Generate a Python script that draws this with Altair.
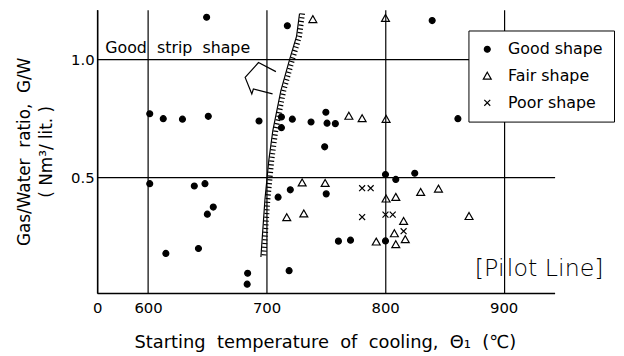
import altair as alt
import pandas as pd

# ---------------- data ----------------
categories = ["Good shape", "Fair shape", "Poor shape"]

good_x = [649.4, 717.5, 839.7,
          601.4, 612.8, 629.0, 650.8, 693.6, 712.5, 712.5, 721.7, 737.5, 750.0, 751.0, 758.0, 749.0, 861.4,
          601.4, 639.0, 648.0, 650.0, 655.0, 615.0, 642.5, 684.0, 683.6, 709.7, 720.0, 750.3, 719.0,
          760.6, 770.8, 800.3, 800.3, 809.0, 825.0]
good_y = [1.178, 1.142, 1.164,
          0.770, 0.749, 0.747, 0.759, 0.739, 0.756, 0.711, 0.747, 0.735, 0.776, 0.730, 0.728, 0.630, 0.749,
          0.474, 0.464, 0.474, 0.345, 0.375, 0.179, 0.200, 0.095, 0.049, 0.417, 0.448, 0.431, 0.106,
          0.231, 0.235, 0.232, 0.513, 0.492, 0.518]

fair_x = [739.0, 800.3, 769.4, 780.6, 800.8, 730.0, 749.4, 717.0, 731.4, 800.8, 809.0, 830.0, 845.0,
          815.6, 870.8, 807.8, 817.0, 792.5, 809.0]
fair_y = [1.169, 1.174, 0.760, 0.750, 0.747, 0.478, 0.476, 0.331, 0.347, 0.410, 0.417, 0.438, 0.452,
          0.315, 0.336, 0.263, 0.238, 0.228, 0.217]

poor_x = [780.6, 787.8, 780.6, 800.3, 806.4, 815.6]
poor_y = [0.455, 0.455, 0.333, 0.343, 0.343, 0.273]

boundary_x = [727.8, 725.3, 719.5, 712.0, 705.3, 701.9, 698.6, 695.2]
boundary_y = [1.194, 1.098, 1.001, 0.867, 0.700, 0.574, 0.407, 0.164]

x_ticks = [557, 600, 700, 800, 900]
y_ticks = [0.5, 1.0]

note_text = ["Good\u00a0\u00a0strip\u00a0\u00a0shape"]
note_x = [563.8]
note_y = [1.028]

pilot_text = ["[Pi\u200alot\u00a0Line]"]
pilot_x = [875.7]
pilot_y = [0.113]

arrow_x = [695.0]
arrow_y = [0.922]

# ---------------- tables ----------------
rows = []
for cat, xs, ys in zip(categories, [good_x, fair_x, poor_x], [good_y, fair_y, poor_y]):
    rows += [{"temp": a, "gw": b, "shape": cat} for a, b in zip(xs, ys)]
df = pd.DataFrame(rows)
bdf = pd.DataFrame({"temp": boundary_x, "gw": boundary_y, "ord": list(range(len(boundary_x)))})

FONT = "DejaVu Sans"
NB = "\u00a0"

xscale = alt.Scale(domain=[557, 943], nice=False, zero=False)
yscale = alt.Scale(domain=[0.012, 1.21], nice=False, zero=False)

xaxis = alt.Axis(
    values=x_ticks, format="d", labelExpr="datum.value < 580 ? '0' : datum.label",
    labelFlush=False, grid=True, gridColor="black", gridWidth=1.2, gridOpacity=1,
    domainColor="black", domainWidth=1.5, ticks=False,
    labelFont=FONT, labelFontSize=15, labelColor="black", labelPadding=8,
    title=f"Starting{NB}{NB}temperature{NB}{NB}of{NB}{NB}cooling,{NB}{NB}Θ₁{NB}{NB}(℃)",
    titleFont=FONT, titleFontSize=18, titleFontWeight="normal", titleColor="black",
    titleX=230, titleY=50, titleAlign="center", titleBaseline="middle",
)
yaxis = alt.Axis(
    values=y_ticks, format=".1f", grid=True, gridColor="black", gridWidth=1.2, gridOpacity=1,
    domainColor="black", domainWidth=1.5, ticks=False,
    labelFont=FONT, labelFontSize=15, labelColor="black", labelPadding=3,
    title=[f"Gas/Water{NB}{NB}ratio,{NB}{NB}G/W", NB * 22 + f"({NB}Nm³/{NB}lit.{NB})"],
    titleFont=FONT, titleFontSize=17, titleFontWeight="normal", titleColor="black",
    titleX=-81, titleY=143, titleAlign="center", titleBaseline="top", titleLineHeight=22,
    titleAngle=270,
)

X = alt.X("temp:Q", scale=xscale, axis=xaxis)
Y = alt.Y("gw:Q", scale=yscale, axis=yaxis)

legend = alt.Legend(
    orient="none", legendX=375, legendY=21, title=None,
    strokeColor="black", fillColor="white", padding=11, rowPadding=11,
    labelFont=FONT, labelFontSize=16, labelColor="black", labelOffset=13,
    symbolSize=64, symbolStrokeColor="black", symbolStrokeWidth=1.2, cornerRadius=0,
)

circle_path = "M-0.75,0A0.75,0.75 0 1,0 0.75,0A0.75,0.75 0 1,0 -0.75,0Z"
tri_path = "M0,-0.95L1,0.8L-1,0.8Z"
x_path = "M-0.75,-0.75L0.75,0.75M-0.75,0.75L0.75,-0.75"

points = alt.Chart(df).mark_point(opacity=1, strokeWidth=1.2, size=64).encode(
    x=X, y=Y,
    shape=alt.Shape("shape:N", scale=alt.Scale(domain=categories, range=[circle_path, tri_path, x_path]),
                    legend=legend),
    fill=alt.Fill("shape:N", scale=alt.Scale(domain=categories, range=["black", "transparent", "transparent"]),
                  legend=legend),
    stroke=alt.Stroke("shape:N", scale=alt.Scale(domain=categories, range=["black", "black", "black"]),
                      legend=legend),
)

boundary = alt.Chart(bdf).mark_line(color="black", strokeWidth=1.2).encode(
    x=X, y=Y, order="ord:Q")
hatch = alt.Chart(bdf).mark_line(color="black", strokeWidth=5, strokeDash=[1.2, 2.6], xOffset=3.0).encode(
    x=X, y=Y, order="ord:Q")

note = alt.Chart(pd.DataFrame({"temp": note_x, "gw": note_y, "t": note_text})).mark_text(
    align="left", baseline="alphabetic", font=FONT, fontSize=16, color="black"
).encode(x=X, y=Y, text="t:N")

pilot = alt.Chart(pd.DataFrame({"temp": pilot_x, "gw": pilot_y, "t": pilot_text})).mark_text(
    align="left", baseline="middle", font=FONT, fontSize=24, fontWeight=300, color="black"
).encode(x=X, y=Y, text="t:N")

arrow = alt.Chart(pd.DataFrame({"temp": arrow_x, "gw": arrow_y})).mark_point(
    shape="M0.96,-0.39L-0.14,-0.96L-0.98,-0.02L-0.56,1.02L-0.46,0.71L0.75,1.02",
    size=1024, filled=False, stroke="black", strokeWidth=1.2, opacity=1
).encode(x=X, y=Y)

chart = alt.layer(boundary, hatch, arrow, note, pilot, points).properties(
    width=462, height=286,
    autosize=alt.AutoSizeParams(type="none"),
    padding={"left": 90, "top": 0, "right": 62, "bottom": 62},
    background="white",
).configure_view(stroke=None)

chart.save("out.html", embed_options={"renderer": "svg", "actions": False})
